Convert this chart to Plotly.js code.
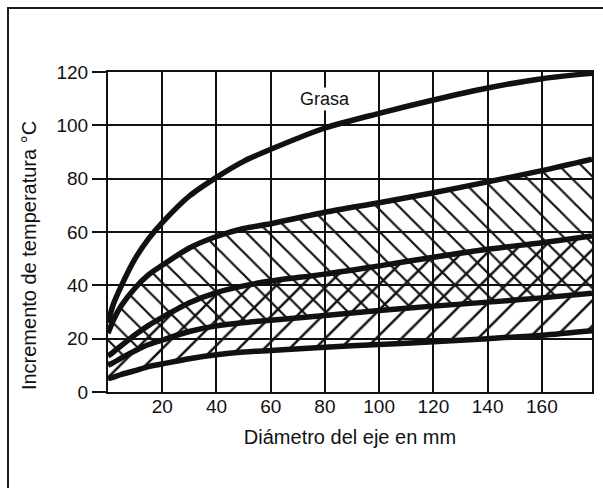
<!DOCTYPE html>
<html>
<head>
<meta charset="utf-8">
<script src="https://cdn.plot.ly/plotly-3.0.1.min.js"></script>
<style>
  html, body { margin: 0; padding: 0; background: #fff; }
  #wrap { position: relative; width: 603px; height: 488px; overflow: hidden; }
  #chart { position: absolute; left: 0; top: 0; width: 603px; height: 488px; }
  #frame { position: absolute; left: 7px; top: 7px; right: 0; bottom: 0;
           border-top: 2px solid #1a1a1a; border-left: 2px solid #1a1a1a; pointer-events: none; }
</style>
</head>
<body>
<div id="wrap"><div id="chart"></div><div id="frame"></div></div>
<script>
// Shaft diameter (mm)
const diam = [0, 2, 5, 10, 15, 20, 30, 40, 50, 60, 80, 100, 120, 140, 160, 178.5];
// Temperature increase (°C) for each curve, top to bottom
const grasa  = [26, 33, 40, 50, 57.5, 63.5, 73.5, 80.5, 86.5, 91, 99, 104.5, 109.5, 114, 117.5, 119.5];
const curve2 = [22, 27, 32.5, 39, 44, 47.5, 54, 58.3, 61.3, 63.1, 67.4, 71, 74.7, 78.8, 83, 87.3];
const curve3 = [13.5, 15, 17.5, 21.5, 25, 28, 33.5, 37.3, 39.8, 41.6, 44.2, 47.3, 50.5, 53.5, 56, 58.5];
const curve4 = [10, 11, 12.8, 15.5, 17.8, 19.5, 22.7, 24.8, 26, 26.9, 28.7, 30.6, 32.2, 33.7, 35.3, 37];
const curve5 = [5, 5.6, 6.6, 8, 9.5, 10.5, 12.5, 14, 15, 15.6, 16.8, 17.8, 18.8, 20, 21.3, 23];

const xTicks = [20, 40, 60, 80, 100, 120, 140, 160];
const xTickText = ['20', '40', '60', '80', '100', '120', '140', '160'];
const yTicks = [0, 20, 40, 60, 80, 100, 120];
const yTickText = ['0', '20', '40', '60', '80', '100', '120'];

const FONT = 'Liberation Sans, Arial, Helvetica, sans-serif';
const INK = '#111111';
const NONE = 'rgba(0,0,0,0)';
const line = {shape: 'spline', smoothing: 0.8};

function hidden(y) {
  return {x: diam, y: y, mode: 'lines', line: Object.assign({width: 0, color: NONE}, line),
          hoverinfo: 'skip', showlegend: false};
}
function hatched(y, shape, size) {
  return {x: diam, y: y, mode: 'lines', fill: 'tonexty', fillcolor: NONE,
          fillpattern: {shape: shape, size: size, solidity: 0.14, fgcolor: INK, bgcolor: NONE, fgopacity: 1},
          line: Object.assign({width: 0, color: NONE}, line), hoverinfo: 'skip', showlegend: false};
}
function thick(y, name) {
  return {x: diam, y: y, name: name, mode: 'lines',
          line: Object.assign({width: 5.5, color: INK}, line), showlegend: false};
}

const data = [
  hidden(curve4), hatched(curve2, '\\', 15.8),
  hidden(curve5), hatched(curve3, '/', 18),
  thick(grasa, 'Grasa'), thick(curve2, 'Curva 2'), thick(curve3, 'Curva 3'),
  thick(curve4, 'Curva 4'), thick(curve5, 'Curva 5')
];

const layout = {
  width: 603, height: 488,
  margin: {l: 108, r: 11, t: 72, b: 96, pad: 0},
  paper_bgcolor: '#fff', plot_bgcolor: '#fff',
  font: {family: FONT, size: 19, color: INK},
  showlegend: false,
  xaxis: {
    range: [0, 178.5], tickmode: 'array', tickvals: xTicks, ticktext: xTickText,
    showgrid: true, gridcolor: INK, gridwidth: 2,
    showline: true, mirror: true, linecolor: INK, linewidth: 2,
    zeroline: false, ticks: '', ticklabelstandoff: -4,
    tickfont: {size: 19, family: FONT, color: INK},
    title: {text: 'Diámetro del eje en mm', font: {size: 20, family: FONT, color: INK}, standoff: 14}
  },
  yaxis: {
    range: [0, 120], tickmode: 'array', tickvals: yTicks, ticktext: yTickText,
    showgrid: true, gridcolor: INK, gridwidth: 2,
    showline: true, mirror: true, linecolor: INK, linewidth: 2,
    zeroline: false, ticks: 'outside', ticklen: 14, tickwidth: 2, tickcolor: INK,
    tickfont: {size: 19, family: FONT, color: INK}
  },
  annotations: [
    {x: 80, y: 110, xref: 'x', yref: 'y', text: 'Grasa', showarrow: false,
     font: {size: 18, family: FONT, color: INK}, bgcolor: '#fff', borderpad: 1},
    {x: -0.163, y: 0.425, xref: 'paper', yref: 'paper', textangle: -90,
     text: 'Incremento de temperatura °C',
     showarrow: false, xanchor: 'center', yanchor: 'middle',
     font: {size: 20, family: FONT, color: INK}}
  ]
};

Plotly.newPlot('chart', data, layout, {staticPlot: true, displayModeBar: false});
</script>
</body>
</html>
